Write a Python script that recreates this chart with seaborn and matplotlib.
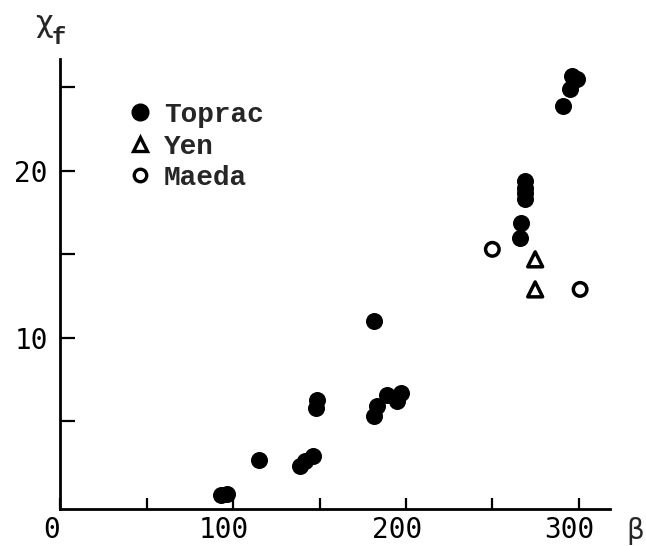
import matplotlib
matplotlib.use("Agg")
import matplotlib.pyplot as plt
import matplotlib.transforms as mtransforms
from matplotlib.lines import Line2D
import seaborn as sns
import pandas as pd

# Measured points (beta, chi_f) for each data source
toprac_beta = [93.0, 96.6, 115.2, 138.7, 141.6, 146.1, 148.0, 148.7, 181.7, 181.7,
               183.1, 188.9, 195.0, 197.0, 266.2, 266.8, 268.9, 268.9, 268.9, 268.9,
               290.8, 295.0, 296.0, 299.0]
toprac_chi = [0.56, 0.67, 2.7, 2.3, 2.6, 2.9, 5.8, 6.3, 11.0, 5.3,
              5.9, 6.6, 6.2, 6.7, 16.0, 16.9, 18.3, 18.7, 19.0, 19.4,
              23.9, 24.9, 25.7, 25.5]
yen_beta = [274.8, 274.8]
yen_chi = [14.7, 12.9]
maeda_beta = [250.0, 300.8]
maeda_chi = [15.3, 12.9]

x_ticks = [0, 50, 100, 150, 200, 250, 300]
x_ticklabels = ["0", "", "100", "", "200", "", "300"]
y_ticks = [5, 10, 15, 20, 25]
y_ticklabels = ["", "10", "", "20", ""]

df = pd.concat([
    pd.DataFrame({"beta": toprac_beta, "chi": toprac_chi, "source": "Toprac"}),
    pd.DataFrame({"beta": yen_beta, "chi": yen_chi, "source": "Yen"}),
    pd.DataFrame({"beta": maeda_beta, "chi": maeda_chi, "source": "Maeda"}),
], ignore_index=True)

sns.set_style("ticks")
tick_font = "DejaVu Sans Mono"
legend_font = "Liberation Mono"

fig = plt.figure(figsize=(6.46, 5.46), dpi=100)
ax = fig.add_axes([0.0935, 0.0678, 0.8505, 0.8242])

sns.scatterplot(data=df[df.source == "Toprac"], x="beta", y="chi", ax=ax,
                marker="o", s=150, color="black", edgecolor="black",
                linewidth=0, legend=False, zorder=3)
sns.scatterplot(data=df[df.source == "Yen"], x="beta", y="chi", ax=ax,
                marker="^", s=115, facecolor="none", edgecolor="black",
                linewidth=2.5, legend=False, zorder=3)
sns.scatterplot(data=df[df.source == "Maeda"], x="beta", y="chi", ax=ax,
                marker="o", s=95, facecolor="none", edgecolor="black",
                linewidth=2.5, legend=False, zorder=3)

ax.set_xlim(0, 318)
ax.set_ylim(-0.25, 26.7)
ax.set_xlabel("")
ax.set_ylabel("")
sns.despine(ax=ax)
for side in ("left", "bottom"):
    ax.spines[side].set_linewidth(2.0)
    ax.spines[side].set_color("black")

ax.set_xticks(x_ticks)
ax.set_xticklabels(x_ticklabels, fontsize=20, family=tick_font)
ax.set_yticks(y_ticks)
ax.set_yticklabels(y_ticklabels, fontsize=20, family=tick_font)
ax.tick_params(axis="x", direction="in", length=8, width=1.6, pad=5, colors="black")
ax.tick_params(axis="y", direction="in", length=11, width=1.6, pad=9, colors="black")

# typewritten x labels sit a little left of their ticks
shift = mtransforms.ScaledTranslation(-9 / 100, 0, fig.dpi_scale_trans)
for lbl in ax.get_xticklabels():
    lbl.set_transform(lbl.get_transform() + shift)

# axis names
fig.text(44 / 646, 1 - 23 / 546, "χ", fontsize=22, family="DejaVu Sans",
         ha="center", va="center")
fig.text(59 / 646, 1 - 38 / 546, "f", fontsize=17, family=legend_font,
         weight="bold", ha="center", va="center")
fig.text(635 / 646, 1 - 531 / 546, "β", fontsize=20, family="DejaVu Sans",
         ha="center", va="center")

handles = [
    Line2D([], [], marker="o", ls="none", markersize=12, color="black"),
    Line2D([], [], marker="^", ls="none", markersize=10, markerfacecolor="none",
           markeredgecolor="black", markeredgewidth=2.4),
    Line2D([], [], marker="o", ls="none", markersize=9, markerfacecolor="none",
           markeredgecolor="black", markeredgewidth=2.4),
]
ax.legend(handles, ["Toprac", "Yen", "Maeda"], loc="upper left",
          bbox_to_anchor=(128 / 646, 1 - 102 / 546), bbox_transform=fig.transFigure,
          frameon=False, borderpad=0, borderaxespad=0, handlelength=0.85,
          handletextpad=0.45, labelspacing=0.2,
          prop={"family": legend_font, "size": 20, "weight": "bold"})

fig.savefig("out.png", dpi=100, facecolor="white")
